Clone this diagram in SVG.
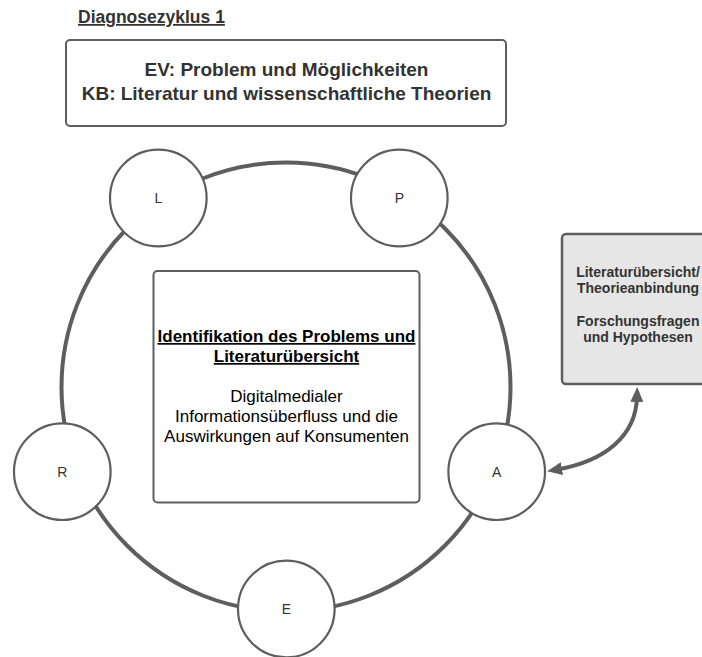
<svg xmlns="http://www.w3.org/2000/svg" width="702" height="657" viewBox="0 0 702 657">
  <defs>
    <style>
      .box { fill: #ffffff; stroke: #5e5e5e; stroke-width: 2; }
      .grey { fill: #e6e6e6; stroke: #5e5e5e; stroke-width: 2.5; }
      .ring { fill: none; stroke: #5e5e5e; stroke-width: 4; }
      .node { fill: #ffffff; stroke: #5e5e5e; stroke-width: 2.2; }
      .lbl { font-family: "Liberation Sans", Arial, sans-serif; font-size: 14px; fill: #333333; text-anchor: middle; }
      .head { font-family: "Liberation Sans", Arial, sans-serif; font-weight: bold; fill: #333333; text-anchor: middle; }
      .body { font-family: "Liberation Sans", Arial, sans-serif; font-size: 17px; fill: #000000; text-anchor: middle; }
      .link { fill: none; stroke: #5e5e5e; stroke-width: 4; }
    </style>
    <marker id="arrow" viewBox="0 0 15 13" refX="5" refY="6.5" markerWidth="15" markerHeight="13" markerUnits="userSpaceOnUse" orient="auto-start-reverse">
      <path d="M0,0 L15,6.5 L0,13 z" fill="#5e5e5e"/>
    </marker>
  </defs>

  <!-- title -->
  <text x="78" y="23" class="head" style="font-size:17.5px;text-anchor:start;text-decoration:underline">Diagnosezyklus 1</text>

  <!-- top description box -->
  <g id="header">
    <rect x="66" y="40" width="440" height="86" rx="4" class="box"/>
    <text x="286.5" y="76" class="head" style="font-size:19px">EV: Problem und Möglichkeiten</text>
    <text x="286.5" y="100" class="head" style="font-size:19px">KB: Literatur und wissenschaftliche Theorien</text>
  </g>

  <!-- cycle ring -->
  <g id="cycle">
    <circle cx="286" cy="387" r="224.5" class="ring"/>
  </g>

  <!-- centre box -->
  <g id="center">
    <rect x="153.5" y="271" width="266" height="231.5" rx="4" class="box"/>
    <text x="286.5" y="342" class="body" style="font-weight:bold;text-decoration:underline">Identifikation des Problems und</text>
    <text x="286.5" y="362" class="body" style="font-weight:bold;text-decoration:underline">Literaturübersicht</text>
    <text x="286.5" y="402" class="body">Digitalmedialer</text>
    <text x="286.5" y="422" class="body">Informationsüberfluss und die</text>
    <text x="286.5" y="442" class="body">Auswirkungen auf Konsumenten</text>
  </g>

  <!-- phase nodes -->
  <g id="node-L">
    <circle cx="158.3" cy="198" r="48.3" class="node"/>
    <text x="158.3" y="203" class="lbl">L</text>
  </g>
  <g id="node-P">
    <circle cx="399.3" cy="198" r="48.3" class="node"/>
    <text x="399.3" y="203" class="lbl">P</text>
  </g>
  <g id="node-R">
    <circle cx="62.3" cy="471.7" r="48.3" class="node"/>
    <text x="62.3" y="476.7" class="lbl">R</text>
  </g>
  <g id="node-A">
    <circle cx="496.7" cy="471.7" r="48.3" class="node"/>
    <text x="496.7" y="476.7" class="lbl">A</text>
  </g>
  <g id="node-E">
    <circle cx="286.3" cy="609" r="48.3" class="node"/>
    <text x="286.3" y="614" class="lbl">E</text>
  </g>

  <!-- side note box -->
  <g id="note">
    <rect x="562" y="234" width="156" height="150" rx="4" class="grey"/>
    <text x="638" y="277" class="head" style="font-size:14px">Literaturübersicht/</text>
    <text x="638" y="293" class="head" style="font-size:14px">Theorieanbindung</text>
    <text x="638" y="326" class="head" style="font-size:14px">Forschungsfragen</text>
    <text x="638" y="342" class="head" style="font-size:14px">und Hypothesen</text>
  </g>

  <!-- connectors -->
  <g id="connectors">
    <path d="M557,469.5 C605,461 636,436 637,397" class="link" marker-start="url(#arrow)" marker-end="url(#arrow)"/>
  </g>
</svg>
